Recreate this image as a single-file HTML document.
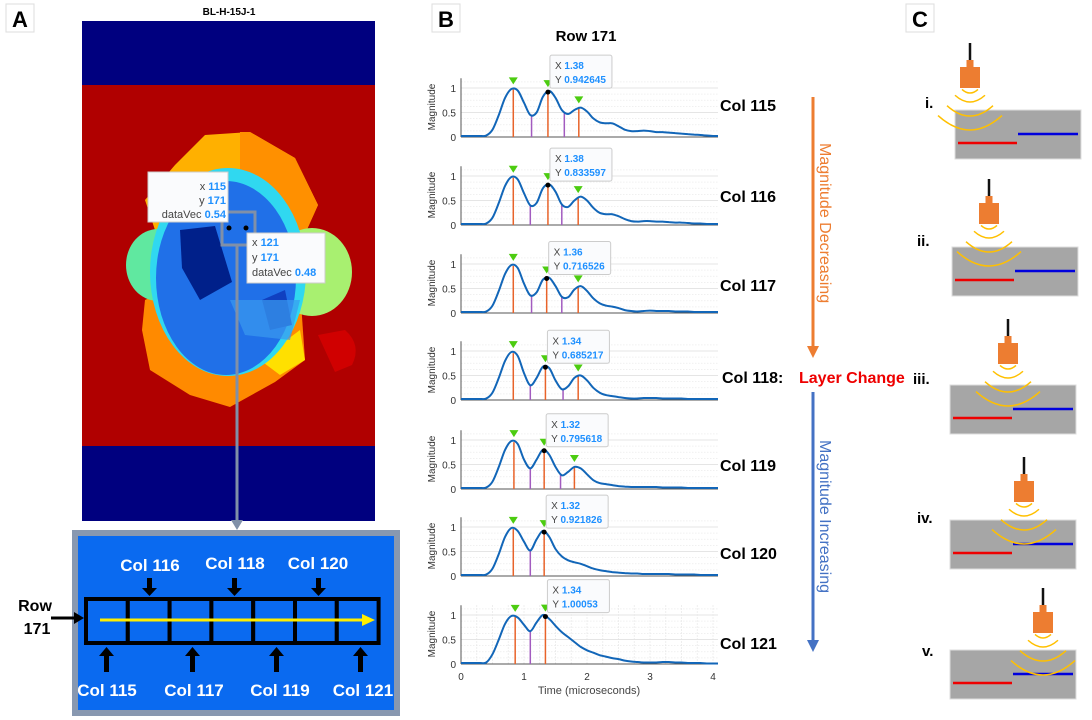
<!DOCTYPE html>
<html><head><meta charset="utf-8"><style>
html,body{margin:0;padding:0;background:#fff;}
svg{display:block;font-family:"Liberation Sans",sans-serif;}
</style></head><body>
<svg id="fig" width="1092" height="720" viewBox="0 0 1092 720">
<g><rect x="6" y="4" width="28" height="28" fill="#fff" stroke="#ddd"/><text x="20" y="27" font-size="22" font-weight="bold" text-anchor="middle">A</text></g>
<g><rect x="432" y="4" width="28" height="28" fill="#fff" stroke="#ddd"/><text x="446" y="27" font-size="22" font-weight="bold" text-anchor="middle">B</text></g>
<g><rect x="906" y="4" width="28" height="28" fill="#fff" stroke="#ddd"/><text x="920" y="27" font-size="22" font-weight="bold" text-anchor="middle">C</text></g>

<g>
<text x="229" y="15" font-size="10" font-weight="bold" text-anchor="middle">BL-H-15J-1</text>
<rect x="82" y="21" width="293" height="500" fill="#00007f"/>
<rect x="82" y="85" width="293" height="361" fill="#b00000"/>
<path d="M318,335 L345,330 Q362,345 352,365 L335,372 Z" fill="#d00000"/>
<path d="M205,135 L250,132 L295,158 L318,205 L300,245 L160,245 L145,200 L175,165 Z" fill="#ffb000"/>
<path d="M240,132 L250,132 L295,158 L318,205 L300,245 L240,245 Z" fill="#ff9000"/>
<path d="M145,300 L170,288 L300,288 L305,360 L275,382 L230,407 L190,395 L150,370 L142,330 Z" fill="#ff8a00"/>
<path d="M260,360 L300,330 L305,360 L280,375 Z" fill="#ffe000"/>
<ellipse cx="158" cy="265" rx="32" ry="36" fill="#60e8a0"/>
<ellipse cx="312" cy="272" rx="40" ry="44" fill="#a8f070"/>
<ellipse cx="228" cy="272" rx="78" ry="104" fill="#30d8f0"/>
<ellipse cx="226" cy="278" rx="70" ry="97" fill="#2070e8"/>
<path d="M180,230 L215,226 L232,282 L200,300 L182,268 Z" fill="#00208a"/>
<path d="M262,300 L285,290 L292,325 L270,330 Z" fill="#1040c0"/>
<path d="M230,300 L300,300 L290,340 L245,335 Z" fill="#3a9af0" opacity="0.7"/>
</g>
<rect x="222" y="212" width="33" height="33" fill="none" stroke="#8090a8" stroke-width="3"/>
<circle cx="229" cy="228" r="2.5" fill="#000"/><circle cx="246" cy="228" r="2.5" fill="#000"/>
<g><rect x="148" y="172" width="80" height="50" fill="#fafbfd" stroke="#ccc"/>
<text x="226" y="190" font-size="11" text-anchor="end" fill="#444">x <tspan fill="#1e90ff" font-weight="bold">115</tspan></text>
<text x="226" y="204" font-size="11" text-anchor="end" fill="#444">y <tspan fill="#1e90ff" font-weight="bold">171</tspan></text>
<text x="226" y="218" font-size="11" text-anchor="end" fill="#444">dataVec <tspan fill="#1e90ff" font-weight="bold">0.54</tspan></text></g>
<g><rect x="247" y="233" width="78" height="50" fill="#fafbfd" stroke="#ccc"/>
<text x="252" y="246" font-size="11" fill="#444">x <tspan fill="#1e90ff" font-weight="bold">121</tspan></text>
<text x="252" y="261" font-size="11" fill="#444">y <tspan fill="#1e90ff" font-weight="bold">171</tspan></text>
<text x="252" y="276" font-size="11" fill="#444">dataVec <tspan fill="#1e90ff" font-weight="bold">0.48</tspan></text></g>
<line x1="237" y1="245" x2="237" y2="523" stroke="#8090a8" stroke-width="3"/>
<path d="M231,520 L243,520 L237,530 Z" fill="#8090a8"/>

<g>
<rect x="72" y="530" width="328" height="186" fill="#8898b0"/>
<rect x="78" y="536" width="316" height="174" fill="#0a6af0"/>
<g fill="#fff" font-size="17" font-weight="bold" text-anchor="middle">
<text x="150" y="571">Col 116</text><text x="235" y="569">Col 118</text><text x="318" y="569">Col 120</text>
<text x="107" y="696">Col 115</text><text x="194" y="696">Col 117</text><text x="280" y="696">Col 119</text><text x="363" y="696">Col 121</text>
</g>
<g id="cells" stroke="#000" stroke-width="4" fill="#0a6af0"></g>
<line x1="100" y1="620" x2="365" y2="620" stroke="#ffee00" stroke-width="3"/>
<path d="M362,614 L375,620 L362,626 Z" fill="#ffee00"/>
<g fill="#000">
<path d="M147,578 h5 v10 h5 l-7.5,8 l-7.5,-8 h5 z"/><path d="M232,578 h5 v10 h5 l-7.5,8 l-7.5,-8 h5 z"/><path d="M316,578 h5 v10 h5 l-7.5,8 l-7.5,-8 h5 z"/>
<path d="M104,672 h5 v-16 h5 l-7.5,-9 l-7.5,9 h5 z"/><path d="M190,672 h5 v-16 h5 l-7.5,-9 l-7.5,9 h5 z"/><path d="M274,672 h5 v-16 h5 l-7.5,-9 l-7.5,9 h5 z"/><path d="M358,672 h5 v-16 h5 l-7.5,-9 l-7.5,9 h5 z"/>
</g>
</g>
<text x="35" y="611" font-size="16" font-weight="bold" text-anchor="middle">Row</text>
<text x="37" y="634" font-size="16" font-weight="bold" text-anchor="middle">171</text>
<line x1="51" y1="618" x2="76" y2="618" stroke="#000" stroke-width="3"/><path d="M74,612 L84,618 L74,624 Z" fill="#000"/>

<text x="586" y="41" font-size="15" font-weight="bold" text-anchor="middle">Row 171</text>
<g id="charts"></g>
<text x="589" y="694" font-size="11" fill="#444" text-anchor="middle">Time (microseconds)</text>

<g font-size="16" font-weight="bold">
<text x="720" y="111">Col  115</text><text x="720" y="202">Col  116</text><text x="720" y="291">Col  117</text>
<text x="722" y="383">Col  118:</text><text x="799" y="383" fill="#ee0000">Layer Change</text>
<text x="720" y="471">Col  119</text><text x="720" y="559">Col  120</text><text x="720" y="649">Col  121</text>
</g>
<line x1="813" y1="97" x2="813" y2="348" stroke="#ed7d31" stroke-width="3"/>
<path d="M807,346 L819,346 L813,358 Z" fill="#ed7d31"/>
<text transform="translate(820,143) rotate(90)" font-size="16" fill="#ed7d31">Magnitude Decreasing</text>
<line x1="813" y1="392" x2="813" y2="642" stroke="#4472c4" stroke-width="3"/>
<path d="M807,640 L819,640 L813,652 Z" fill="#4472c4"/>
<text transform="translate(820,440) rotate(90)" font-size="16" fill="#4472c4">Magnitude Increasing</text>

<g id="panelC"></g>
</svg>
<script>
const NS='http://www.w3.org/2000/svg';
function mk(tag,attrs,parent){const e=document.createElementNS(NS,tag);for(const k in attrs)e.setAttribute(k,attrs[k]);parent.appendChild(e);return e;}
const cellsG=document.getElementById('cells');
for(let i=0;i<7;i++){const r=mk('rect',{x:86+i*41.8,y:599,width:41.8,height:44},cellsG);

}

const timeStep=0.1;
const colNames=['115','116','117','118','119','120','121'];
const mag115=[.02,.02,.02,.02,.03,.15,.45,.8,.98,.95,.7,.45,.5,.82,.94,.8,.55,.47,.55,.6,.52,.38,.3,.28,.28,.22,.15,.12,.12,.13,.12,.1,.1,.09,.08,.07,.06,.05,.04,.03,.02];
const mag116=[.02,.02,.02,.02,.03,.15,.45,.8,.98,.93,.65,.4,.45,.75,.83,.68,.42,.37,.5,.58,.5,.35,.25,.22,.22,.18,.12,.08,.07,.08,.08,.07,.07,.06,.05,.05,.04,.03,.03,.02,.02];
const mag117=[.02,.02,.02,.02,.03,.15,.45,.8,.98,.92,.6,.36,.42,.68,.72,.55,.33,.32,.48,.55,.45,.3,.2,.15,.13,.1,.06,.04,.03,.04,.05,.04,.04,.04,.03,.03,.03,.02,.02,.02,.02];
const mag118=[.02,.02,.02,.02,.03,.15,.45,.8,.98,.9,.55,.3,.45,.68,.65,.4,.22,.28,.45,.5,.4,.25,.15,.1,.08,.06,.04,.03,.03,.04,.04,.04,.03,.03,.03,.03,.02,.02,.02,.02,.02];
const mag119=[.02,.02,.02,.02,.03,.15,.45,.8,.98,.92,.6,.42,.6,.8,.7,.45,.28,.35,.45,.42,.3,.18,.12,.1,.08,.06,.05,.04,.04,.04,.04,.04,.03,.03,.03,.03,.02,.02,.02,.02,.02];
const mag120=[.02,.02,.02,.02,.03,.15,.45,.8,.98,.92,.7,.52,.75,.92,.8,.55,.4,.32,.28,.25,.2,.15,.12,.1,.08,.07,.06,.05,.05,.04,.04,.04,.04,.04,.03,.03,.03,.03,.02,.02,.02];
const mag121=[.02,.02,.02,.02,.03,.2,.5,.82,.98,.95,.8,.67,.85,1.0,.92,.78,.65,.55,.45,.35,.28,.23,.18,.15,.12,.1,.07,.05,.04,.03,.03,.03,.04,.04,.03,.03,.02,.02,.02,.01,.01];
const peakTimes=[[0.83,1.38,1.87],[0.83,1.38,1.86],[0.83,1.36,1.86],[0.83,1.34,1.86],[0.84,1.32,1.8],[0.83,1.32],[0.86,1.34]];
const valleyTimes=[[1.12,1.64],[1.1,1.6],[1.12,1.6],[1.1,1.62],[1.1,1.58],[1.1],[1.1]];
const tipX=['1.38','1.38','1.36','1.34','1.32','1.32','1.34'];
const tipY=['0.942645','0.833597','0.716526','0.685217','0.795618','0.921826','1.00053'];
const yTicks=[0,0.5,1];
const xTicks=[0,1,2,3,4];
const series=[mag115,mag116,mag117,mag118,mag119,mag120,mag121];

const baseY=[137,225,313,400,489,576,664];
const X0=461, XU=63, YU=49, XR=718;
const xs=t=>X0+t*XU;
function interp(arr,t){const f=t/timeStep;const i=Math.min(Math.floor(f),arr.length-2);const a=f-i;return arr[i]*(1-a)+arr[i+1]*a;}
function smoothPath(pts){let d='M'+pts[0][0]+','+pts[0][1];for(let i=0;i<pts.length-1;i++){const p0=pts[Math.max(i-1,0)],p1=pts[i],p2=pts[i+1],p3=pts[Math.min(i+2,pts.length-1)];
const c1=[p1[0]+(p2[0]-p0[0])/6,p1[1]+(p2[1]-p0[1])/6],c2=[p2[0]-(p3[0]-p1[0])/6,p2[1]-(p3[1]-p1[1])/6];
d+=` C${c1[0].toFixed(1)},${c1[1].toFixed(1)} ${c2[0].toFixed(1)},${c2[1].toFixed(1)} ${p2[0].toFixed(1)},${p2[1].toFixed(1)}`;}return d;}
const charts=document.getElementById('charts');
series.forEach((data,k)=>{
 const b=baseY[k]; const ys=v=>b-v*YU; const top=b-1.2*YU;
 const g=mk('g',{},charts);
 
 
 for(let v=0.125;v<=1.2;v+=0.125){mk('line',{x1:X0,x2:XR,y1:ys(v),y2:ys(v),stroke:v%0.5===0?'#dcdcdc':'#ececec','stroke-dasharray':v%0.5===0?'':'1.5,1.5','stroke-width':0.8},g);}
 if(k===6){for(let t=0.25;t<4.1;t+=0.25){mk('line',{x1:xs(t),x2:xs(t),y1:top,y2:b,stroke:'#e4e4e4','stroke-dasharray':'1.5,1.5','stroke-width':0.8},g);}}
 mk('line',{x1:X0,x2:X0,y1:top,y2:b,stroke:'#555','stroke-width':1},g);
 mk('line',{x1:X0,x2:XR,y1:b,y2:b,stroke:'#555','stroke-width':1},g);
 yTicks.forEach(v=>{const t=mk('text',{x:X0-5,y:ys(v)+4,'font-size':10,fill:'#333','text-anchor':'end'},g);t.textContent=String(v);
  
  });
 const yl=mk('text',{transform:`translate(${X0-26},${b-30}) rotate(-90)`,'font-size':10,fill:'#333','text-anchor':'middle'},g);yl.textContent='Magnitude';
 
 
 valleyTimes[k].forEach(t=>{const l=mk('line',{x1:xs(t),x2:xs(t),y1:b,y2:ys(interp(data,t)),stroke:'#a25bbf','stroke-width':1.5},g);
  
  });
 peakTimes[k].forEach(t=>{const l=mk('line',{x1:xs(t),x2:xs(t),y1:b,y2:ys(interp(data,t)),stroke:'#e8632a','stroke-width':1.5},g);
  
  });
 const pts=data.map((v,i)=>[xs(i*timeStep),ys(v)]);
 pts.push([XR,ys(data[data.length-1])]);
 const p=mk('path',{d:smoothPath(pts),fill:'none',stroke:'#1266b8','stroke-width':2},g);
 
 
 peakTimes[k].forEach(t=>{const x=xs(t),y=ys(interp(data,t))-5;const tr=mk('path',{d:`M${x-4.5},${y-7} L${x+4.5},${y-7} L${x},${y} Z`,fill:'#4ccc10'},g);
  
  });
 const pt=peakTimes[k][1];const px=xs(pt),py=ys(interp(data,pt));
 mk('circle',{cx:px,cy:py,r:2.5,fill:'#000'},g);
 const tg=mk('g',{},g);
 
 
 const bx=px+2,by=py-37;
 mk('rect',{x:bx,y:by,width:62,height:33,rx:2,fill:'#fafbfd',stroke:'#ccc'},tg);
 const t1=mk('text',{x:bx+5,y:by+14,'font-size':10,fill:'#444'},tg);t1.innerHTML='X <tspan fill="#1e90ff" font-weight="bold">'+tipX[k]+'</tspan>';
 const t2=mk('text',{x:bx+5,y:by+28,'font-size':10,fill:'#444'},tg);t2.innerHTML='Y <tspan fill="#1e90ff" font-weight="bold">'+tipY[k]+'</tspan>';
 if(k===6){xTicks.forEach(v=>{const t=mk('text',{x:xs(v),y:b+16,'font-size':10,fill:'#333','text-anchor':'middle'},g);t.textContent=String(v);
  
  });}
});

const C=document.getElementById('panelC');
const steps=[
 {lab:'i.',lx:925,ly:108,rx:955,ry:110,tx:970,tt:67},
 {lab:'ii.',lx:917,ly:246,rx:952,ry:247,tx:989,tt:203},
 {lab:'iii.',lx:913,ly:384,rx:950,ry:385,tx:1008,tt:343},
 {lab:'iv.',lx:917,ly:523,rx:950,ry:520,tx:1024,tt:481},
 {lab:'v.',lx:922,ly:656,rx:950,ry:650,tx:1043,tt:612}];
const waveDepth=[5,14,28,42], waveHalf=[8,15,23,32];
steps.forEach(s=>{
 const g=mk('g',{},C);
 
 
 const t=mk('text',{x:s.lx,y:s.ly,'font-size':15,'font-weight':'bold'},g);t.textContent=s.lab;
 mk('rect',{x:s.rx,y:s.ry,width:126,height:49,fill:'#a6a6a6',stroke:'#ddd'},g);
 mk('line',{x1:s.rx+3,x2:s.rx+62,y1:s.ry+33,y2:s.ry+33,stroke:'#ee0000','stroke-width':2.5},g);
 mk('line',{x1:s.rx+63,x2:s.rx+123,y1:s.ry+24,y2:s.ry+24,stroke:'#0000dd','stroke-width':2.5},g);
 mk('line',{x1:s.tx,x2:s.tx,y1:s.tt-24,y2:s.tt-6,stroke:'#111','stroke-width':2.5},g);
 mk('rect',{x:s.tx-3.5,y:s.tt-7,width:7,height:8,fill:'#ed7d31'},g);
 mk('rect',{x:s.tx-10,y:s.tt,width:20,height:21,fill:'#ed7d31'},g);
 const cy=s.tt+21;
 waveDepth.forEach((d,i)=>{const w=waveHalf[i];const ey=cy+d-w*0.45;
  mk('path',{d:`M${s.tx-w},${ey} Q${s.tx},${cy+d+w*0.45} ${s.tx+w},${ey}`,fill:'none',stroke:'#ffc000','stroke-width':1.5},g);});
});
</script>
</body></html>
